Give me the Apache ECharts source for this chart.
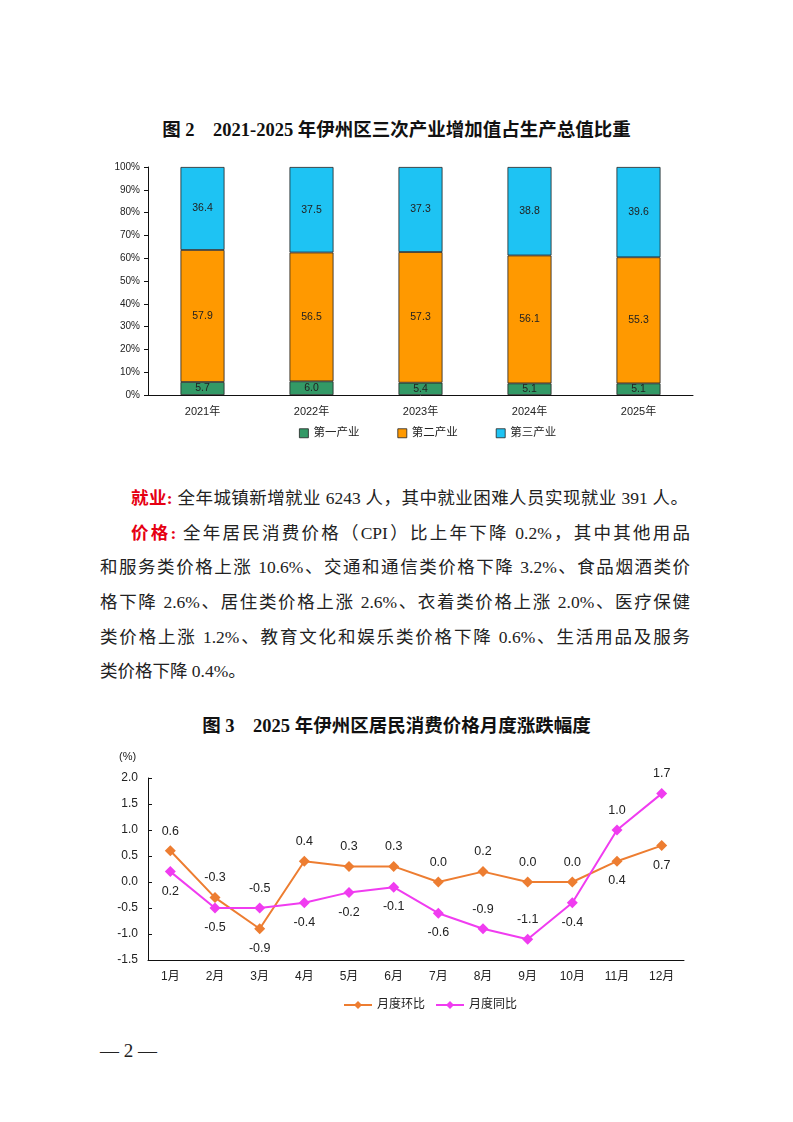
<!DOCTYPE html>
<html>
<head>
<meta charset="utf-8">
<script src="https://cdn.jsdelivr.net/npm/echarts@6/dist/echarts.min.js"></script>
<style>
  body { margin: 0; background: #fff; }
  .page { position: relative; width: 793px; height: 1122px; overflow: hidden; }
  .title {
    position: absolute; left: 0; width: 793px; text-align: center;
    font-family: "Liberation Serif", "Noto Sans CJK SC", serif;
    font-weight: bold; font-size: 18.5px; color: #111;
  }
  .line {
    position: absolute; left: 100px; width: 590px;
    font-family: "Liberation Serif", "Noto Sans CJK SC", serif;
    font-size: 17.5px; color: #222; white-space: nowrap;
    text-align: justify; text-align-last: justify;
  }
  .line.last { text-align-last: left; }
  .red { color: #e60012; font-weight: bold; }
  #bar { position: absolute; left: 0; top: 150px; width: 793px; height: 300px; }
  #cpi { position: absolute; left: 0; top: 740px; width: 793px; height: 290px; }
  .foot {
    position: absolute; left: 100px; top: 1040px;
    font-family: "Liberation Serif", serif; font-size: 19px; color: #222;
  }
</style>
</head>
<body>
<div class="page">
  <div class="title" style="top:115px">图 2&emsp;2021-2025 年伊州区三次产业增加值占生产总值比重</div>
  <div id="bar"></div>

  <div class="line" style="top:484px;left:131px;width:557px"><span class="red">就业:</span> 全年城镇新增就业 6243 人，其中就业困难人员实现就业 391 人。</div>
  <div class="line" style="top:519px;left:131px;width:559px"><span class="red">价格:</span>&nbsp;全年居民消费价格（CPI）比上年下降 0.2%，其中其他用品</div>
  <div class="line" style="top:553px">和服务类价格上涨 10.6%、交通和通信类价格下降 3.2%、食品烟酒类价</div>
  <div class="line" style="top:588px">格下降 2.6%、居住类价格上涨 2.6%、衣着类价格上涨 2.0%、医疗保健</div>
  <div class="line" style="top:623px">类价格上涨 1.2%、教育文化和娱乐类价格下降 0.6%、生活用品及服务</div>
  <div class="line last" style="top:657px">类价格下降 0.4%。</div>

  <div class="title" style="top:711px">图 3&emsp;2025 年伊州区居民消费价格月度涨跌幅度</div>
  <div id="cpi"></div>

  <div class="foot">— 2 —</div>
</div>

<script>
// 图2 三次产业比重
const years = ['2021年', '2022年', '2023年', '2024年', '2025年']
const primary = [5.7, 6.0, 5.4, 5.1, 5.1]
const secondary = [57.9, 56.5, 57.3, 56.1, 55.3]
const tertiary = [36.4, 37.5, 37.3, 38.8, 39.6]
const pctTicks = [0, 10, 20, 30, 40, 50, 60, 70, 80, 90, 100]

// 图3 居民消费价格
const months = ['1月', '2月', '3月', '4月', '5月', '6月', '7月', '8月', '9月', '10月', '11月', '12月']
const huanbi = [0.6, -0.3, -0.9, 0.4, 0.3, 0.3, 0.0, 0.2, 0.0, 0.0, 0.4, 0.7]
const tongbi = [0.2, -0.5, -0.5, -0.4, -0.2, -0.1, -0.6, -0.9, -1.1, -0.4, 1.0, 1.7]
const cpiTicks = [-1.5, -1.0, -0.5, 0.0, 0.5, 1.0, 1.5, 2.0]

// 标签位置
const huanbiPos = ['top', 'top', 'bottom', 'top', 'top', 'top', 'top', 'top', 'top', 'top', 'bottom', 'bottom']
const tongbiPos = ['bottom', 'bottom', 'top', 'bottom', 'bottom', 'bottom', 'bottom', 'top', 'top', 'bottom', 'top', 'top']

const sans = 'Liberation Sans, Arial, Noto Sans CJK SC, sans-serif'

const barChart = echarts.init(document.getElementById('bar'))
const barItem = (name, data, color) => ({
  name,
  type: 'bar',
  stack: 'all',
  barWidth: 44,
  data,
  itemStyle: { color, borderColor: '#222', borderWidth: 0.8 },
  label: {
    show: true,
    position: 'inside',
    color: '#222',
    fontSize: 10.5,
    fontFamily: sans,
    formatter: (p) => p.value.toFixed(1),
  },
})
barChart.setOption({
  animation: false,
  textStyle: { fontFamily: sans },
  grid: { left: 148, right: 100, top: 17, bottom: 55 },
  legend: {
    bottom: 6,
    left: 294,
    itemWidth: 9,
    itemHeight: 9,
    itemGap: 38,
    icon: 'rect',
    itemStyle: { borderColor: '#222', borderWidth: 0.8 },
    textStyle: { fontSize: 11.5, color: '#222' },
    data: ['第一产业', '第二产业', '第三产业'],
  },
  xAxis: {
    type: 'category',
    data: years,
    axisLine: { lineStyle: { color: '#111', width: 1 } },
    axisTick: { inside: true, length: 4, lineStyle: { color: '#111' } },
    axisLabel: { color: '#222', fontSize: 11, margin: 11 },
  },
  yAxis: {
    type: 'value',
    min: pctTicks[0],
    max: pctTicks[pctTicks.length - 1],
    interval: 10,
    splitLine: { show: false },
    axisLine: { show: true, lineStyle: { color: '#111', width: 1 } },
    axisTick: { show: true, length: 4, lineStyle: { color: '#111' } },
    axisLabel: { color: '#222', fontSize: 10, formatter: '{value}%', margin: 8 },
  },
  series: [
    barItem('第一产业', primary, '#339966'),
    barItem('第二产业', secondary, '#ff9900'),
    barItem('第三产业', tertiary, '#1ec3f3'),
  ],
})

const cpiChart = echarts.init(document.getElementById('cpi'))
const lineItem = (name, data, color, pos) => ({
  name,
  type: 'line',
  data: data.map((v, i) => ({ value: v, label: { position: pos[i] } })),
  symbol: 'diamond',
  symbolSize: 11,
  lineStyle: { color, width: 2 },
  itemStyle: { color },
  label: {
    show: true,
    distance: 8,
    color: '#222',
    fontSize: 12.5,
    fontFamily: sans,
    formatter: (p) => p.value.toFixed(1),
  },
})
cpiChart.setOption({
  animation: false,
  textStyle: { fontFamily: sans },
  grid: { left: 148, right: 109, top: 38, bottom: 70 },
  legend: {
    bottom: 14,
    left: 338,
    itemWidth: 28,
    itemHeight: 10,
    itemGap: 10,
    textStyle: { fontSize: 12, color: '#222' },
    data: ['月度环比', '月度同比'],
  },
  graphic: [
    { type: 'text', left: 119, top: 11, style: { text: '(%)', fill: '#222', font: '11px ' + sans } },
  ],
  xAxis: {
    type: 'category',
    data: months,
    axisLine: { onZero: false, lineStyle: { color: '#111', width: 1 } },
    axisTick: { inside: true, length: 4, lineStyle: { color: '#111' } },
    axisLabel: { color: '#222', fontSize: 12, margin: 11 },
  },
  yAxis: {
    type: 'value',
    min: cpiTicks[0],
    max: cpiTicks[cpiTicks.length - 1],
    interval: 0.5,
    splitLine: { show: false },
    axisLine: { show: true, lineStyle: { color: '#111', width: 1 } },
    axisTick: { show: true, inside: true, length: 4, lineStyle: { color: '#111' } },
    axisLabel: { color: '#222', fontSize: 12, formatter: (v) => v.toFixed(1), margin: 10 },
  },
  series: [
    lineItem('月度环比', huanbi, '#ed7d31', huanbiPos),
    lineItem('月度同比', tongbi, '#f03cf0', tongbiPos),
  ],
})
</script>
</body>
</html>
